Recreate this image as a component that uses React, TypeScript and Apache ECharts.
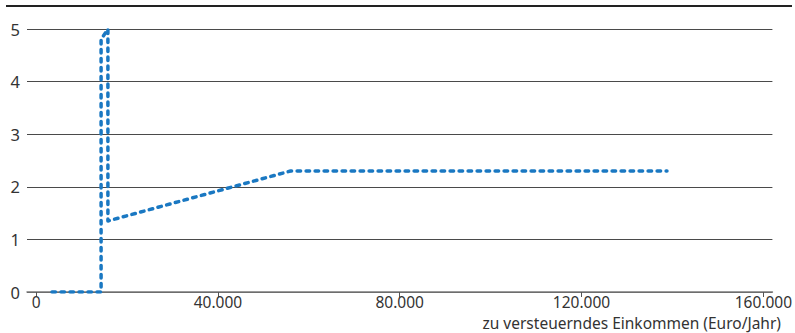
import React, { useEffect, useRef } from "react";
import * as echarts from "echarts";

const xValues = [3500, 14300, 14300, 15800, 15800, 56000, 138800];
const yValues = [0, 0, 4.8, 5, 1.35, 2.3, 2.3];
const xTicks = [0, 40000, 80000, 120000, 160000];
const axisTitle = "zu versteuerndes Einkommen (Euro/Jahr)";

const fmt = (v: number) => String(v).replace(/\B(?=(\d{3})+(?!\d))/g, ".");

export default function App() {
  const ref = useRef<HTMLDivElement>(null);
  useEffect(() => {
    if (!ref.current) return;
    const chart = echarts.init(ref.current, null, { renderer: "svg" });
    const font = "'Noto Sans', sans-serif";
    chart.setOption({
      animation: false,
      grid: { left: 27, right: 20, top: 29, bottom: 41 },
      xAxis: {
        type: "value",
        min: -2000,
        max: 162000,
        axisLine: { show: true, lineStyle: { color: "#7a7a7a", width: 1.5 } },
        axisTick: { show: true, customValues: xTicks, length: 5, lineStyle: { color: "#555" } },
        axisLabel: {
          customValues: xTicks,
          formatter: (v: number) => fmt(v),
          color: "#333",
          fontFamily: font,
          fontSize: 15.5,
          lineHeight: 15,
          margin: 2,
        },
        splitLine: { show: false },
      },
      yAxis: {
        type: "value",
        min: 0,
        max: 5,
        interval: 1,
        axisLine: { show: false },
        axisTick: { show: false },
        axisLabel: { color: "#333", fontFamily: font, fontSize: 16.5, margin: 7 },
        splitLine: { show: true, lineStyle: { color: "#4a4a4a", width: 1 } },
      },
      graphic: [
        {
          type: "line",
          shape: { x1: 6, y1: 6, x2: 792, y2: 6 },
          style: { stroke: "#222", lineWidth: 2 },
        },
        {
          type: "text",
          x: 781,
          y: 322.5,
          style: {
            text: axisTitle,
            fill: "#333",
            font: `15.5px ${font}`,
            lineHeight: 15,
            textAlign: "right",
            textVerticalAlign: "middle",
          },
        },
      ],
      series: [
        {
          type: "line",
          data: xValues.map((x, i) => [x, yValues[i]]),
          showSymbol: false,
          lineStyle: { color: "#1a78c2", width: 3.5, type: [3.5, 5.5], cap: "round", join: "round" },
        },
      ],
    });
    return () => chart.dispose();
  }, []);
  return <div ref={ref} style={{ width: 795, height: 333, position: "absolute", left: 0, top: 0 }} />;
}
